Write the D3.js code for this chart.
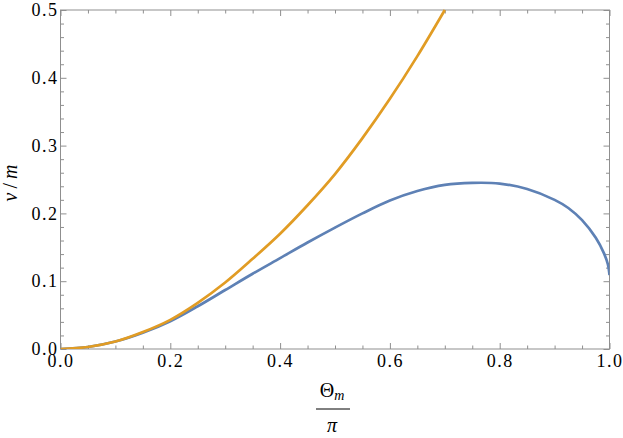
<!DOCTYPE html>
<html>
<head>
<meta charset="utf-8">
<script src="https://cdn.jsdelivr.net/npm/d3@7"></script>
<style>
  html, body { margin: 0; padding: 0; background: #fff; }
</style>
</head>
<body>
<div id="chart"></div>
<script>
// Values
const xBlue  = [0, 0.05, 0.1, 0.15, 0.2, 0.25, 0.3, 0.35, 0.4, 0.45, 0.5, 0.55, 0.6, 0.65, 0.7, 0.75, 0.8, 0.85, 0.9, 0.925, 0.95, 0.975, 0.99, 0.997, 1.0];
const yBlue  = [0, 0.003, 0.011, 0.024, 0.041, 0.063, 0.087, 0.111, 0.134, 0.157, 0.179, 0.200, 0.219, 0.233, 0.242, 0.245, 0.244, 0.236, 0.220, 0.208, 0.190, 0.164, 0.141, 0.125, 0.109];
const xOrange = [0, 0.05, 0.1, 0.15, 0.2, 0.25, 0.3, 0.35, 0.4, 0.45, 0.5, 0.55, 0.6, 0.65, 0.7];
const yOrange = [0, 0.003, 0.011, 0.025, 0.043, 0.068, 0.098, 0.133, 0.170, 0.212, 0.258, 0.311, 0.369, 0.432, 0.5];
const xTicks = [0, 0.2, 0.4, 0.6, 0.8, 1.0];
const yTicks = [0, 0.1, 0.2, 0.3, 0.4, 0.5];

(function () {
  const W = 623, H = 438;
  const MARGIN = { top: 10, right: 13.5, bottom: 89, left: 60.5 };
  const iW = W - MARGIN.left - MARGIN.right;
  const iH = H - MARGIN.top - MARGIN.bottom;
  const FRAME = "#8f8f8f";
  const SERIF = "Liberation Serif";

  const svg = d3.select("#chart").append("svg")
    .attr("width", W).attr("height", H).attr("viewBox", `0 0 ${W} ${H}`)
    .attr("font-family", SERIF);
  const g = svg.append("g").attr("transform", `translate(${MARGIN.left},${MARGIN.top})`);

  const x = d3.scaleLinear().domain([0, 1]).range([0, iW]);
  const y = d3.scaleLinear().domain([0, 0.5]).range([iH, 0]);

  const xMinor = d3.range(0, 1.0001, 0.05).filter(v => Math.abs(v * 5 - Math.round(v * 5)) > 1e-6);
  const yMinor = d3.range(0, 0.5001, 0.02).filter(v => Math.abs(v * 10 - Math.round(v * 10)) > 1e-6);

  // Clip for curves
  svg.append("defs").append("clipPath").attr("id", "plot-clip")
    .append("rect").attr("x", 0).attr("y", -2).attr("width", iW).attr("height", iH + 2);

  const styleAxis = sel => {
    sel.attr("font-family", SERIF).attr("font-size", 18);
    sel.select(".domain").remove();
    sel.selectAll(".tick line").attr("stroke", FRAME);
    sel.selectAll(".tick text").attr("fill", "#000").attr("font-family", SERIF)
      .attr("font-size", 18).attr("letter-spacing", 1.5);
  };

  // Bottom axis (labelled) and top axis (mirror)
  g.append("g").attr("transform", `translate(0,${iH})`)
    .call(d3.axisBottom(x).tickValues(xTicks).tickSize(-6).tickPadding(5).tickFormat(d3.format(".1f")))
    .call(styleAxis);
  g.append("g").attr("transform", `translate(0,${iH})`)
    .call(d3.axisBottom(x).tickValues(xMinor).tickSize(-3.5).tickFormat(""))
    .call(styleAxis);
  g.append("g")
    .call(d3.axisTop(x).tickValues(xTicks).tickSize(-6).tickFormat(""))
    .call(styleAxis);
  g.append("g")
    .call(d3.axisTop(x).tickValues(xMinor).tickSize(-3.5).tickFormat(""))
    .call(styleAxis);

  // Left axis (labelled) and right axis (mirror)
  g.append("g")
    .call(d3.axisLeft(y).tickValues(yTicks).tickSize(-6).tickPadding(2).tickFormat(d3.format(".1f")))
    .call(styleAxis);
  g.append("g")
    .call(d3.axisLeft(y).tickValues(yMinor).tickSize(-3.5).tickFormat(""))
    .call(styleAxis);
  g.append("g").attr("transform", `translate(${iW},0)`)
    .call(d3.axisRight(y).tickValues(yTicks).tickSize(-6).tickFormat(""))
    .call(styleAxis);
  g.append("g").attr("transform", `translate(${iW},0)`)
    .call(d3.axisRight(y).tickValues(yMinor).tickSize(-3.5).tickFormat(""))
    .call(styleAxis);

  // Frame
  g.append("rect").attr("x", 0).attr("y", 0).attr("width", iW).attr("height", iH)
    .attr("fill", "none").attr("stroke", FRAME).attr("stroke-width", 1);

  // Curves
  const line = d3.line().x(d => x(d[0])).y(d => y(d[1])).curve(d3.curveCatmullRom.alpha(0.5));
  const curves = g.append("g").attr("clip-path", "url(#plot-clip)");
  curves.append("path").datum(d3.zip(xBlue, yBlue))
    .attr("fill", "none").attr("stroke", "#5e81b5").attr("stroke-width", 2.7)
    .attr("d", line);
  curves.append("path").datum(d3.zip(xOrange, yOrange))
    .attr("fill", "none").attr("stroke", "#e19c24").attr("stroke-width", 2.7)
    .attr("d", line);

  // Y label: v/m
  const yl = svg.append("text")
    .attr("transform", `translate(17,183) rotate(-90)`)
    .attr("text-anchor", "middle").attr("font-size", 20).attr("font-family", SERIF);
  yl.append("tspan").attr("font-style", "italic").text("v");
  yl.append("tspan").attr("dx", 4).text("/");
  yl.append("tspan").attr("dx", 4).attr("font-style", "italic").text("m");

  // X label: Θ_m / π
  const cx = 333;
  const num = svg.append("text").attr("x", cx - 1).attr("y", 397)
    .attr("text-anchor", "middle").attr("font-size", 20).attr("font-family", SERIF);
  num.append("tspan").text("Θ");
  num.append("tspan").attr("font-style", "italic").attr("font-size", 14).attr("dy", 3).text("m");
  svg.append("line").attr("x1", cx - 17).attr("x2", cx + 17)
    .attr("y1", 409).attr("y2", 409).attr("stroke", "#000").attr("stroke-width", 1);
  svg.append("text").attr("x", cx - 1).attr("y", 432).attr("font-family", SERIF)
    .attr("text-anchor", "middle").attr("font-size", 20).attr("font-style", "italic").text("π");
})();
</script>
</body>
</html>
